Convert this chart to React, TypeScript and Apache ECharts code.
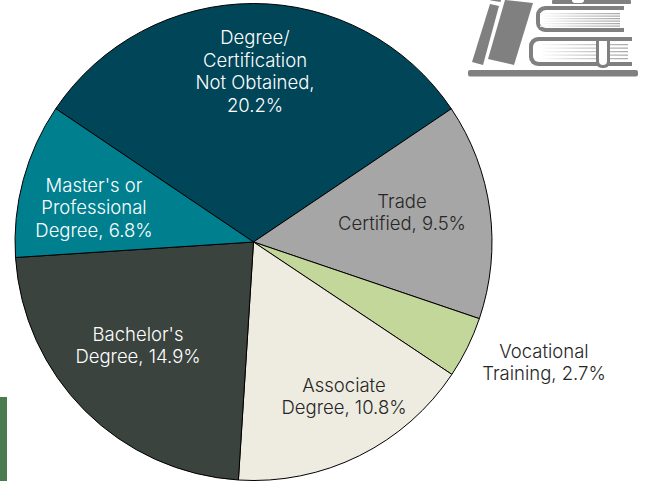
import React, { useEffect, useRef } from "react";
import * as echarts from "echarts";

const categories = [
  "Degree/\nCertification\nNot Obtained,\n20.2%",
  "Trade\nCertified, 9.5%",
  "Vocational\nTraining, 2.7%",
  "Associate\nDegree, 10.8%",
  "Bachelor's\nDegree, 14.9%",
  "Master's or\nProfessional\nDegree, 6.8%",
];
const values = [20.2, 9.5, 2.7, 10.8, 14.9, 6.8];
const colors = ["#004558", "#a6a6a6", "#c4d79b", "#eeece1", "#3b433e", "#00808f"];
const labelColors = ["#ffffff", "#262626", "#262626", "#262626", "#ffffff", "#ffffff"];
const labelCenters = [
  [255, 71],
  [402, 212],
  [544, 362],
  [344, 396],
  [138, 345],
  [94, 207],
];

const GRAY = "#808080";
const pageFill = () =>
  new echarts.graphic.LinearGradient(0, 0, 1, 0, [
    { offset: 0, color: "#ffffff" },
    { offset: 0.45, color: "#d0d0d0" },
    { offset: 1, color: "#a8a8a8" },
  ]);

function pageLines(x: number, w: number, ys: number[]) {
  return ys.map((y) => ({
    type: "rect",
    shape: { x, y, width: w, height: 1.3 },
    style: { fill: pageFill() },
  }));
}

function bookOutline(x: number, y: number, w: number, h: number, t: number) {
  return [
    { type: "rect", shape: { x, y, width: w, height: h, r: [9, 0, 0, 9] }, style: { fill: GRAY } },
    {
      type: "rect",
      shape: { x: x + t, y: y + t, width: w - t, height: h - 2 * t, r: [6, 0, 0, 6] },
      style: { fill: "#ffffff" },
    },
  ];
}

const logo = [
  { type: "rect", shape: { x: 468, y: 70, width: 170, height: 6.5, r: 2 }, style: { fill: GRAY } },
  { type: "polygon", shape: { points: [[490, 4], [499, 6], [483, 65], [472, 62]] }, style: { fill: GRAY } },
  { type: "polygon", shape: { points: [[490, 0], [501, 0], [500.5, 2], [491, 0.5]] }, style: { fill: GRAY } },
  { type: "polygon", shape: { points: [[505, 0], [533, 3], [514, 65], [488, 59]] }, style: { fill: GRAY } },
  { type: "rect", shape: { x: 552, y: 0, width: 79, height: 4, r: 1 }, style: { fill: GRAY } },
  { type: "rect", shape: { x: 572, y: 0, width: 12, height: 3, r: [0, 0, 4, 4] }, style: { fill: "#ffffff" } },
  ...bookOutline(536, 6, 88, 26, 4),
  ...pageLines(540, 80, [13, 15.5, 18, 20.5, 23, 25.5]),
  ...bookOutline(529, 37, 103, 29, 4),
  ...pageLines(540, 88, [44, 47.5, 51, 54.5, 58]),
  { type: "rect", shape: { x: 596, y: 41, width: 14, height: 27, r: [0, 0, 6, 6] }, style: { fill: GRAY } },
  { type: "rect", shape: { x: 599, y: 41, width: 8, height: 24, r: [0, 0, 4, 4] }, style: { fill: "#ffffff" } },
];

export default function App() {
  const ref = useRef<HTMLDivElement>(null);
  useEffect(() => {
    document.body.style.margin = "0";
    const chart = echarts.init(ref.current!, undefined, { renderer: "svg" });
    chart.setOption({
      animation: false,
      backgroundColor: "#ffffff",
      graphic: [
        {
          type: "rect",
          z: 0,
          shape: { x: 0, y: 397, width: 7, height: 84 },
          style: { fill: "#4a7c4f" },
        },
        { type: "group", children: logo },
      ],
      series: [
        {
          type: "pie",
          center: [253.5, 242],
          radius: [0, 238.5],
          startAngle: 146,
          clockwise: true,
          data: categories.map((name, i) => ({
            name,
            value: values[i],
            itemStyle: { color: colors[i] },
            label: { color: labelColors[i] },
          })),
          itemStyle: { borderColor: "#000000", borderWidth: 1 },
          label: {
            show: true,
            position: "inside",
            formatter: "{b}",
            fontFamily: "Inter",
            fontWeight: 300,
            fontSize: 18.5,
            lineHeight: 22.5,
            align: "center",
          },
          labelLine: { show: false },
          labelLayout: (p: any) => ({
            x: labelCenters[p.dataIndex][0],
            y: labelCenters[p.dataIndex][1],
            align: "center",
            verticalAlign: "middle",
          }),
          emphasis: { disabled: true },
        },
      ],
    });
    return () => chart.dispose();
  }, []);
  return <div ref={ref} style={{ width: 649, height: 481 }} />;
}
